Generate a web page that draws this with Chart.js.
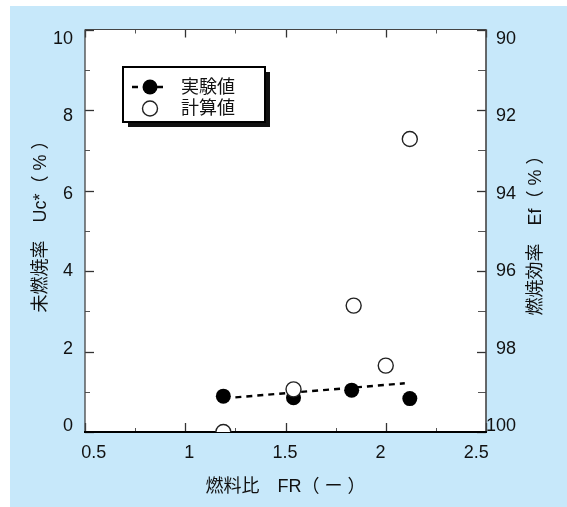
<!DOCTYPE html>
<html>
<head>
<meta charset="utf-8">
<script src="https://cdn.jsdelivr.net/npm/chart.js@4/dist/chart.umd.min.js"></script>
<style>
  html, body { margin: 0; padding: 0; background: #ffffff; }
  #wrap { width: 567px; height: 507px; }
</style>
</head>
<body>
<div id="wrap"><canvas id="c" width="567" height="507"></canvas></div>
<script>
// Measured unburnt-carbon ratio vs. fuel ratio
const frExp = [1.19, 1.54, 1.83, 2.12];
const ucExp = [0.89, 0.85, 1.04, 0.83];
// Calculated values
const frCalc = [1.19, 1.54, 1.84, 2.00, 2.12];
const ucCalc = [0.00, 1.06, 3.14, 1.65, 7.28];
// Dashed trend through the measured points
const frTrend = [1.25, 2.095];
const ucTrend = [0.86, 1.21];

// Axis ticks
const xTicks = [0.5, 1, 1.5, 2, 2.5];
const xMinorTicks = [0.75, 1.25, 1.75, 2.25];
const ucTicks = [0, 2, 4, 6, 8, 10];
const ucMinorTicks = [1, 3, 5, 7, 9];
const efTicks = [90, 92, 94, 96, 98, 100];
const efMinorTicks = [91, 93, 95, 97, 99];

const seriesNames = ['実験値', '計算値'];
const xTitle = '燃料比　FR（ ー ）';
const ucTitle = '未燃焼率　Uc*（ % ）';
const efTitle = '燃焼効率　Ef（ % ）';

const FONT_FAMILY = "'Liberation Sans', Arial, 'Noto Sans CJK JP', sans-serif";
const TEXT = '#111111';
const BG = '#c7e8fa';
const FONT_SIZE = 18;

const pts = (xs, ys) => xs.map((x, i) => ({ x, y: ys[i] }));
const tickList = arr => arr.map(v => ({ value: v }));

// Page background, plot frame, inward tick marks and vertical titles
const framePlugin = {
  id: 'frame',
  beforeDraw(chart) {
    const { ctx, chartArea: a } = chart;
    ctx.save();
    ctx.fillStyle = '#ffffff';
    ctx.fillRect(0, 0, chart.width, chart.height);
    ctx.fillStyle = BG;
    ctx.fillRect(10, 6, chart.width - 10, chart.height - 6);
    ctx.fillStyle = '#ffffff';
    ctx.fillRect(a.left, a.top, a.right - a.left, a.bottom - a.top);
    ctx.restore();
  },
  beforeDatasetsDraw(chart) {
    const { ctx, chartArea: a, scales } = chart;
    const x = scales.x, y = scales.y, ef = scales.ef;
    ctx.save();
    const seg = (x1, y1, x2, y2, w, c) => {
      ctx.beginPath(); ctx.lineWidth = w; ctx.strokeStyle = c;
      ctx.moveTo(x1, y1); ctx.lineTo(x2, y2); ctx.stroke();
    };
    // horizontal-axis ticks, top and bottom
    xTicks.forEach(v => {
      const px = Math.round(x.getPixelForValue(v)) + 0.5;
      seg(px, a.bottom, px, a.bottom - 9, 1.3, '#333');
      seg(px, a.top, px, a.top + 8, 1.3, '#333');
    });
    xMinorTicks.forEach(v => {
      const px = Math.round(x.getPixelForValue(v)) + 0.5;
      seg(px, a.bottom, px, a.bottom - 4, 1, '#555');
      seg(px, a.top, px, a.top + 4, 1, '#555');
    });
    // left axis ticks
    ucTicks.forEach(v => {
      const py = Math.round(y.getPixelForValue(v)) + 0.5;
      seg(a.left, py, a.left + 9, py, 1.3, '#333');
    });
    ucMinorTicks.forEach(v => {
      const py = Math.round(y.getPixelForValue(v)) + 0.5;
      seg(a.left, py, a.left + 5, py, 1, '#555');
    });
    // right axis ticks
    efTicks.forEach(v => {
      const py = Math.round(ef.getPixelForValue(v)) + 0.5;
      seg(a.right, py, a.right - 9, py, 1.3, '#333');
    });
    efMinorTicks.forEach(v => {
      const py = Math.round(ef.getPixelForValue(v)) + 0.5;
      seg(a.right, py, a.right - 8, py, 1, '#555');
    });
    // frame
    seg(a.left, a.top, a.right, a.top, 1.2, '#444');
    seg(a.left, a.top, a.left, a.bottom, 1.3, '#444');
    seg(a.right, a.top, a.right, a.bottom, 1.6, '#444');
    seg(a.left - 1, a.bottom, a.right + 1, a.bottom, 2, '#000');
    ctx.restore();
  },
  afterDraw(chart) {
    const { ctx } = chart;
    const vTitle = (text, cx, cy) => {
      ctx.save();
      ctx.fillStyle = TEXT;
      ctx.font = FONT_SIZE + 'px ' + FONT_FAMILY;
      ctx.textAlign = 'center';
      ctx.textBaseline = 'middle';
      ctx.translate(cx, cy);
      ctx.rotate(-Math.PI / 2);
      ctx.fillText(text, 0, 0);
      ctx.restore();
    };
    vTitle(ucTitle, 41, 222);
    vTitle(efTitle, 536, 231);
  }
};

// Boxed legend with drop shadow inside the plot
const legendBoxPlugin = {
  id: 'legendBox',
  afterDatasetsDraw(chart) {
    const { ctx } = chart;
    const dsCalc = chart.data.datasets[0];
    const dsExp = chart.data.datasets[1];
    const dsTrend = chart.data.datasets[2];
    const bx = 123, by = 67, bw = 142, bh = 55;
    ctx.save();
    ctx.fillStyle = '#111';
    ctx.fillRect(bx + 5, by + 5, bw, bh);
    ctx.fillStyle = '#ffffff';
    ctx.fillRect(bx, by, bw, bh);
    ctx.lineWidth = 2;
    ctx.strokeStyle = '#000';
    ctx.strokeRect(bx, by, bw, bh);

    const mx = 150, r1 = 87, r2 = 108.5;
    // measured: dashed line with filled marker
    ctx.lineWidth = dsTrend.borderWidth;
    ctx.strokeStyle = dsTrend.borderColor;
    ctx.beginPath();
    ctx.moveTo(132, r1); ctx.lineTo(138, r1);
    ctx.moveTo(157, r1); ctx.lineTo(163, r1);
    ctx.stroke();
    ctx.beginPath();
    ctx.arc(mx, r1, dsExp.pointRadius, 0, Math.PI * 2);
    ctx.fillStyle = dsExp.pointBackgroundColor;
    ctx.fill();
    // calculated: open marker
    ctx.beginPath();
    ctx.arc(mx, r2, dsCalc.pointRadius, 0, Math.PI * 2);
    ctx.fillStyle = dsCalc.pointBackgroundColor;
    ctx.fill();
    ctx.lineWidth = dsCalc.pointBorderWidth;
    ctx.strokeStyle = dsCalc.pointBorderColor;
    ctx.stroke();

    ctx.fillStyle = TEXT;
    ctx.font = FONT_SIZE + 'px ' + FONT_FAMILY;
    ctx.textAlign = 'left';
    ctx.textBaseline = 'middle';
    ctx.fillText(seriesNames[0], 181, r1 + 1);
    ctx.fillText(seriesNames[1], 181, r2 + 1);
    ctx.restore();
  }
};

const tickFont = { family: FONT_FAMILY, size: FONT_SIZE };
const noGrid = { display: false, drawTicks: false };

new Chart(document.getElementById('c'), {
  type: 'scatter',
  data: {
    datasets: [
      {
        label: seriesNames[1],
        data: pts(frCalc, ucCalc),
        xAxisID: 'x', yAxisID: 'y',
        pointRadius: 7.5,
        pointHoverRadius: 7.5,
        pointBackgroundColor: '#ffffff',
        pointBorderColor: '#222',
        pointBorderWidth: 1.4,
        showLine: false
      },
      {
        label: seriesNames[0],
        data: pts(frExp, ucExp),
        xAxisID: 'x', yAxisID: 'y',
        pointRadius: 7.5,
        pointHoverRadius: 7.5,
        pointBackgroundColor: '#000000',
        pointBorderColor: '#000000',
        pointBorderWidth: 0,
        showLine: false
      },
      {
        label: 'trend',
        data: pts(frTrend, ucTrend),
        xAxisID: 'x', yAxisID: 'y',
        showLine: true,
        pointRadius: 0,
        borderColor: '#000',
        borderWidth: 2.4,
        borderDash: [6, 5],
        fill: false
      }
    ]
  },
  options: {
    responsive: false,
    animation: false,
    events: [],
    layout: { padding: { top: 29.5, left: 0, right: 51, bottom: 0 } },
    plugins: { legend: { display: false }, tooltip: { enabled: false } },
    scales: {
      // value scales used for the plotted marks
      x: { type: 'linear', axis: 'x', position: 'bottom', display: false, min: 0.5, max: 2.5 },
      y: { type: 'linear', axis: 'y', position: 'left', display: false, min: 0, max: 10 },
      ef: { type: 'linear', axis: 'y', position: 'right', display: false, min: 90, max: 100, reverse: true },
      // label scales, slightly inset from the plot edges
      xl: {
        type: 'linear',
        axis: 'x',
        position: 'bottom',
        min: 0.4545, max: 2.5515,
        afterBuildTicks: s => { s.ticks = tickList(xTicks); },
        afterFit: s => { s.height = 75; },
        grid: noGrid,
        border: { display: false },
        ticks: { font: tickFont, color: TEXT, padding: 10, maxRotation: 0, autoSkip: false,
                 callback: v => String(v) },
        title: { display: true, text: xTitle, font: tickFont, color: TEXT, padding: { top: 0, bottom: 9 } }
      },
      yl: {
        type: 'linear',
        axis: 'y',
        position: 'left',
        min: -0.155, max: 10.246,
        afterBuildTicks: s => { s.ticks = tickList(ucTicks); },
        afterFit: s => { s.width = 85; },
        grid: noGrid,
        border: { display: false },
        ticks: { font: tickFont, color: TEXT, padding: 12, autoSkip: false, callback: v => String(v) }
      },
      efl: {
        type: 'linear',
        axis: 'y',
        position: 'right',
        min: 89.7545, max: 100.1555,
        reverse: true,
        afterBuildTicks: s => { s.ticks = tickList(efTicks); },
        afterFit: s => { s.width = 30; },
        grid: noGrid,
        border: { display: false },
        ticks: { font: tickFont, color: TEXT, padding: 0, crossAlign: 'far', autoSkip: false,
                 callback: v => String(v) }
      }
    }
  },
  plugins: [framePlugin, legendBoxPlugin]
});
</script>
</body>
</html>
